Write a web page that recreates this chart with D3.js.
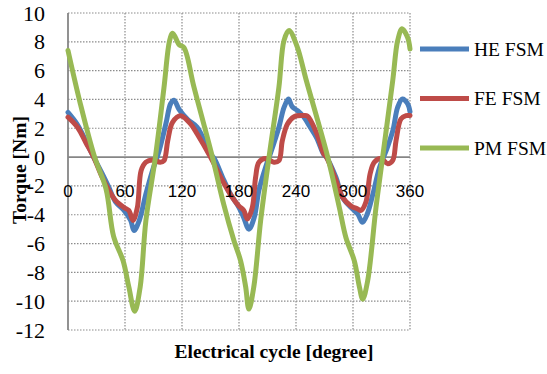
<!DOCTYPE html>
<html><head><meta charset="utf-8">
<script src="https://cdn.jsdelivr.net/npm/d3@7"></script>
<style>body{margin:0;background:#fff}svg{display:block}</style>
</head><body>
<svg id="c" width="547" height="374"></svg>
<script>
const xTicks = [0, 60, 120, 180, 240, 300, 360];
const yTicks = [-12, -10, -8, -6, -4, -2, 0, 2, 4, 6, 8, 10];
const seriesNames = ["HE FSM", "FE FSM", "PM FSM"];
const colors = ["#4a7ebb", "#be4b48", "#98b954"];

const heDeg = [0,10,20,27,36,43,50,59,66,69.5,75,82,89,96,103,108,111.6,117,126,136,150,154,164,171,180,185,190.4,196,201,208,213,222,227.4,232,236,242,248,255,262,269,272,282,289,298,305,310,315,321,328,335,342,347,352,357.5,360];
const heVal = [3.1,2.24,0.95,0,-1.15,-2.1,-3.1,-3.7,-4.4,-5.1,-4.4,-2.56,-0.93,0.46,2.3,3.7,3.95,3.3,2.6,2.07,0.23,-0.1,-1.6,-2.56,-3.5,-4.2,-5.0,-4.2,-2.3,-0.7,0.23,2.07,3.45,4.03,3.5,3.2,2.8,2.07,1.3,0.2,0,-1.4,-2.8,-3.5,-3.95,-4.53,-3.95,-2.56,-0.7,0.46,1.85,3.45,4.03,3.7,3.15];

const feDeg = [0,10,18.6,27,36,43,50,59,64,68.4,73,77,82,89,97,101,105,110,118.6,129,136,150,164,171,180,185,188.8,194,197.5,201,208,216.7,222,225.6,231,238,247,252,262,269,272,282,289,298,305,308.4,313.7,318,322.5,329.5,336.5,341.8,345.3,350.5,355.8,360];
const feVal = [2.77,2.07,1.03,0,-1.4,-2.3,-3.0,-3.5,-3.7,-4.4,-3.5,-0.93,-0.35,-0.2,-0.35,-0.25,1.14,2.41,2.87,2.3,1.6,0,-1.8,-2.6,-3.4,-3.7,-4.3,-3.5,-1.4,-0.35,-0.1,-0.35,-0.25,1.14,2.3,2.8,2.88,2.85,1.6,0.25,0,-1.6,-2.8,-3.4,-3.6,-3.7,-3.1,-1.16,-0.35,-0.1,-0.46,-0.23,1.14,2.65,2.88,2.88];

const pmDeg = [0,13,28,40,48,58,64,70.2,76,82,92,101,107,110.2,117,122,132.6,152,164,174.7,181.7,187,190.4,195.6,202.8,211.6,222,227.4,232.6,241,250.5,273.4,285.6,292.6,301.4,306.7,310.2,315.4,324.2,331.2,341.8,347,351.6,357.5,360];
const pmVal = [7.4,3.7,0,-2.2,-5.5,-7.2,-9.0,-10.7,-9.0,-4.4,0,4.8,8.1,8.6,7.8,7.6,4.85,0,-3.3,-5.8,-7.2,-9.0,-10.55,-9.0,-4.4,0,4.85,8.1,8.78,7.7,5.4,0,-3.5,-5.6,-7.2,-9.0,-9.86,-8.6,-3.5,0,5.3,8.08,8.9,8.3,7.5];

const seriesDeg = [heDeg, feDeg, pmDeg];
const seriesVal = [heVal, feVal, pmVal];

const SERIF = "'Liberation Serif'";
const SANS = "'Liberation Sans'";

const svg = d3.select("#c");
const x = d3.scaleLinear().domain([0, 360]).range([68, 410]);
const y = d3.scaleLinear().domain([-12, 10]).range([330, 13]);
const grid = "#8c8c8c";

svg.append("g").selectAll("line").data(yTicks.filter(d => d !== 0)).join("line")
  .attr("x1", x(0)).attr("x2", x(360)).attr("y1", d => y(d)).attr("y2", d => y(d))
  .attr("stroke", grid).attr("stroke-width", 1.2).attr("stroke-dasharray", "1.5,1.5");
svg.append("g").selectAll("line").data(xTicks.filter(d => d !== 0)).join("line")
  .attr("x1", d => x(d)).attr("x2", d => x(d)).attr("y1", y(10)).attr("y2", y(-12))
  .attr("stroke", grid).attr("stroke-width", 1.2).attr("stroke-dasharray", "1.5,1.5");

svg.append("line").attr("x1", x(0)).attr("x2", x(0)).attr("y1", y(10)).attr("y2", y(-12))
  .attr("stroke", "#868686").attr("stroke-width", 1.8);
svg.append("line").attr("x1", x(0)).attr("x2", x(360)).attr("y1", y(0)).attr("y2", y(0))
  .attr("stroke", "#868686").attr("stroke-width", 1.8);

svg.append("g").selectAll("text").data(yTicks).join("text")
  .style("font-family", SERIF)
  .attr("x", 45).attr("y", d => y(d)).attr("text-anchor", "end").attr("dominant-baseline", "central")
  .attr("font-size", 22)
  .text(d => d);

const line = d3.line().curve(d3.curveCatmullRom.alpha(0.5));
seriesNames.forEach((n, i) => {
  const pts = seriesDeg[i].map((d, j) => [x(d), y(seriesVal[i][j])]);
  svg.append("path").attr("d", line(pts)).attr("fill", "none")
    .attr("stroke", colors[i]).attr("stroke-width", 5).attr("stroke-linejoin", "round").attr("stroke-linecap", "round");
});

svg.append("g").selectAll("text").data(xTicks).join("text")
  .style("font-family", SANS)
  .attr("x", d => x(d)).attr("y", 191).attr("text-anchor", "middle").attr("dominant-baseline", "central")
  .attr("font-size", 17)
  .text(d => d);

svg.append("text").style("font-family", SERIF).attr("transform", "translate(19,170) rotate(-90)")
  .attr("text-anchor", "middle").attr("dominant-baseline", "central")
  .attr("font-weight", "bold").attr("font-size", 19.5)
  .text("Torque [Nm]");
svg.append("text").style("font-family", SERIF).attr("x", 274).attr("y", 351).attr("text-anchor", "middle").attr("dominant-baseline", "central")
  .attr("font-weight", "bold").attr("font-size", 19.5)
  .text("Electrical cycle [degree]");

const legY = [49, 98.5, 148];
seriesNames.forEach((n, i) => {
  svg.append("line").attr("x1", 420).attr("x2", 469).attr("y1", legY[i]).attr("y2", legY[i])
    .attr("stroke", colors[i]).attr("stroke-width", 5);
  svg.append("text").style("font-family", SERIF).attr("x", 474).attr("y", legY[i]).attr("dominant-baseline", "central")
    .attr("font-size", 19.5)
    .text(n);
});
</script>
</body></html>
